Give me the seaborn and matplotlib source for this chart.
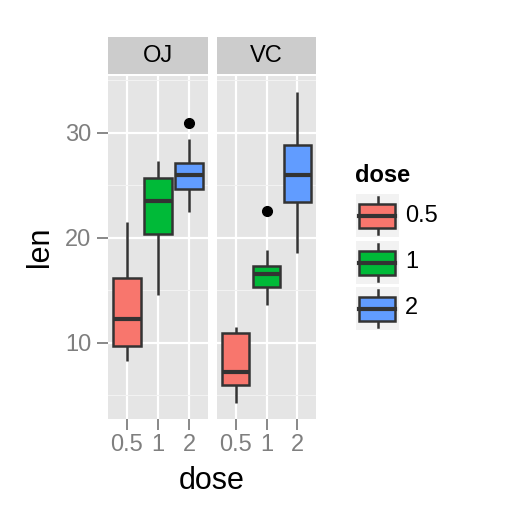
import matplotlib
matplotlib.use("Agg")
from matplotlib import pyplot as plt
from matplotlib.patches import Rectangle
import seaborn as sns
import pandas as pd

# ToothGrowth values, read per supplement and dose
supps = ["OJ", "VC"]
doses = ["0.5", "1", "2"]
oj_05 = [15.2, 21.5, 17.6, 9.7, 14.5, 10.0, 8.2, 9.4, 16.5, 9.7]
oj_1 = [19.7, 23.3, 23.6, 26.4, 20.0, 25.2, 25.8, 21.2, 14.5, 27.3]
oj_2 = [25.5, 26.4, 22.4, 24.5, 24.8, 30.9, 26.4, 27.3, 29.4, 23.0]
vc_05 = [4.2, 11.5, 7.3, 5.8, 6.4, 10.0, 11.2, 11.2, 5.2, 7.0]
vc_1 = [16.5, 16.5, 15.2, 17.3, 22.5, 17.3, 13.6, 14.5, 18.8, 15.5]
vc_2 = [23.6, 18.5, 33.9, 25.5, 26.4, 32.5, 26.7, 21.5, 23.3, 29.5]
y_ticks = [10, 20, 30]
y_minor = [5, 15, 25, 35]

colors = {"0.5": "#F8766D", "1": "#00BA38", "2": "#619CFF"}

groups = {("OJ", "0.5"): oj_05, ("OJ", "1"): oj_1, ("OJ", "2"): oj_2,
          ("VC", "0.5"): vc_05, ("VC", "1"): vc_1, ("VC", "2"): vc_2}
rows = []
for (s, d), vals in groups.items():
    for v in vals:
        rows.append({"supp": s, "dose": d, "len": v})
df = pd.DataFrame(rows)

W = 518.0
def fx(x):
    return x / W
def fy(y):
    return 1 - y / W

font = ["Liberation Sans", "DejaVu Sans"]
plt.rcParams["font.family"] = font

fig = plt.figure(figsize=(5.18, 5.18), dpi=100)

lo = df["len"].min()
hi = df["len"].max()
pad = (hi - lo) * 0.05

panels = [("OJ", 108, 208), ("VC", 217, 316)]
top, bottom = 76, 419
grey_txt = "#7F7F7F"
line_c = "#333333"

for i, (s, x0, x1) in enumerate(panels):
    ax = fig.add_axes([fx(x0), fy(bottom), (x1 - x0) / W, (bottom - top) / W])
    ax.set_facecolor("#E5E5E5")
    ax.set_axisbelow(True)
    sns.boxplot(data=df[df["supp"] == s], x="dose", y="len", hue="dose",
                order=doses, hue_order=doses, palette=colors, saturation=1,
                width=0.9, linecolor=line_c, linewidth=1.8, showcaps=False,
                fliersize=7,
                flierprops=dict(marker="o", markerfacecolor="black",
                                markeredgecolor="black"),
                medianprops=dict(linewidth=3.0, color=line_c),
                legend=False, ax=ax)
    ax.set_xlim(-0.6, 2.6)
    ax.set_ylim(lo - pad, hi + pad)
    ax.set_yticks(y_ticks)
    ax.set_yticks(y_minor, minor=True)
    ax.grid(True, which="major", color="white", linewidth=1.6)
    ax.grid(True, which="minor", axis="y", color="#F2F2F2", linewidth=0.8)
    for sp in ax.spines.values():
        sp.set_visible(False)
    ax.set_xlabel("")
    ax.set_ylabel("")
    ax.set_xticks(range(len(doses)))
    ax.set_xticklabels(doses)
    ax.tick_params(axis="both", which="major", length=8, width=1.3,
                   color=grey_txt, labelcolor=grey_txt, labelsize=17)
    ax.tick_params(axis="y", which="minor", length=0)
    ax.tick_params(axis="x", pad=3)
    ax.tick_params(axis="y", pad=4)
    if i > 0:
        ax.tick_params(axis="y", which="both", left=False, labelleft=False)

    st = fig.add_axes([fx(x0), fy(74), (x1 - x0) / W, 37 / W])
    st.set_facecolor("#CCCCCC")
    st.set_xticks([])
    st.set_yticks([])
    for sp in st.spines.values():
        sp.set_visible(False)
    st.text(0.5, 0.48, s, ha="center", va="center", fontsize=17,
            transform=st.transAxes)

fig.text(fx(40), fy(247), "len", rotation=90, ha="center", va="center",
         fontsize=22)
fig.text(fx(212), fy(489), "dose", ha="center", va="baseline", fontsize=22)

# legend
fig.text(fx(355), fy(175), "dose", ha="left", va="center", fontsize=17,
         fontweight="bold")
key_tops = [194, 241, 287]
for d, kt in zip(doses, key_tops):
    k = fig.add_axes([fx(356), fy(kt + 43), 43 / W, 43 / W])
    k.set_xlim(0, 43)
    k.set_ylim(43, 0)
    k.axis("off")
    k.add_patch(Rectangle((0, 0), 43, 43, color="#F2F2F2", zorder=0))
    k.plot([21.5, 21.5], [3, 40], color=line_c, lw=1.8, zorder=1)
    k.add_patch(Rectangle((3, 10), 36, 24, facecolor=colors[d],
                          edgecolor=line_c, lw=1.8, zorder=2))
    k.plot([3, 39], [22, 22], color=line_c, lw=3.0, zorder=3)
    fig.text(fx(405), fy(kt + 21.5), d, ha="left", va="center", fontsize=17)

fig.savefig("out.png", dpi=100)
